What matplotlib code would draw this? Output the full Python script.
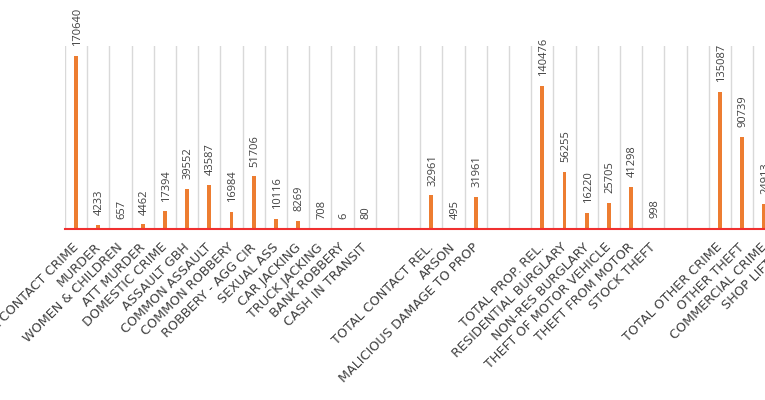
import matplotlib
matplotlib.use("Agg")
import matplotlib.pyplot as plt
import matplotlib.transforms as mtransforms
import numpy as np

# Categorias (espacos vazios separam os grupos)
categorias = [
    "TOTAL CONTACT CRIME", "MURDER", "WOMEN & CHILDREN", "ATT MURDER",
    "DOMESTIC CRIME", "ASSAULT GBH", "COMMON ASSAULT", "COMMON ROBBERY",
    "ROBBERY - AGG CIR", "SEXUAL ASS", "CAR JACKING", "TRUCK JACKING",
    "BANK ROBBERY", "CASH IN TRANSIT", "", "",
    "TOTAL CONTACT REL.", "ARSON", "MALICIOUS DAMAGE TO PROP", "", "",
    "TOTAL PROP. REL.", "RESIDENTIAL BURGLARY", "NON-RES BURGLARY",
    "THEFT OF MOTOR VEHICLE", "THEFT FROM MOTOR", "STOCK THEFT", "", "",
    "TOTAL OTHER CRIME", "OTHER THEFT", "COMMERCIAL CRIME", "SHOP LIFTING",
]

valores = [
    170640, 4233, 657, 4462,
    17394, 39552, 43587, 16984,
    51706, 10116, 8269, 708,
    6, 80, np.nan, np.nan,
    32961, 495, 31961, np.nan, np.nan,
    140476, 56255, 16220,
    25705, 41298, 998, np.nan, np.nan,
    135087, 90739, 24913, np.nan,
]

LARANJA = "#ED7D31"
TEXTO = "#404040"

fig = plt.figure(figsize=(7.65, 4.0), dpi=100)
n = len(categorias)
# eixo passa da borda direita (grafico recortado como no original)
ax = fig.add_axes([65 / 765, 171 / 400, n * 22.2 / 765, 183 / 400])

x = np.arange(n)
vals = np.array(valores, dtype=float)
ax.bar(x, np.nan_to_num(vals), width=0.18, color=LARANJA, zorder=3)

# Rotulos de dados
for xi, v in zip(x, vals):
    if np.isnan(v):
        continue
    ax.annotate(f"{int(v)}", (xi, v), xytext=(1, 7), textcoords="offset points",
                rotation=90, rotation_mode="anchor", ha="left", va="center",
                fontsize=8, color=TEXTO, family="Open Sans")

ax.set_xlim(-0.5, n - 0.5)
ax.set_ylim(0, 180000)

# Linhas verticais entre categorias
ax.set_xticks(np.arange(-0.5, n, 1.0), minor=True)
ax.grid(axis="x", which="minor", color="#D9D9D9", linewidth=1, zorder=0)
ax.tick_params(axis="x", which="minor", length=0)

ax.set_xticks(x)
ax.set_xticklabels(categorias, rotation=45, rotation_mode="anchor",
                   ha="right", va="top", fontsize=9.2, color=TEXTO,
                   family="DejaVu Sans")
ax.tick_params(axis="x", which="major", length=0, pad=8.5)
offset = mtransforms.ScaledTranslation(-4 / 100, 0, fig.dpi_scale_trans)
for lbl in ax.get_xticklabels():
    lbl.set_transform(lbl.get_transform() + offset)

ax.set_yticks([])
for s in ["top", "left", "right"]:
    ax.spines[s].set_visible(False)
ax.spines["bottom"].set_color("#F03030")
ax.spines["bottom"].set_linewidth(1.5)
ax.spines["bottom"].set_zorder(4)

fig.savefig("out.png", dpi=100)
plt.close(fig)
print("grafico salvo em out.png")
